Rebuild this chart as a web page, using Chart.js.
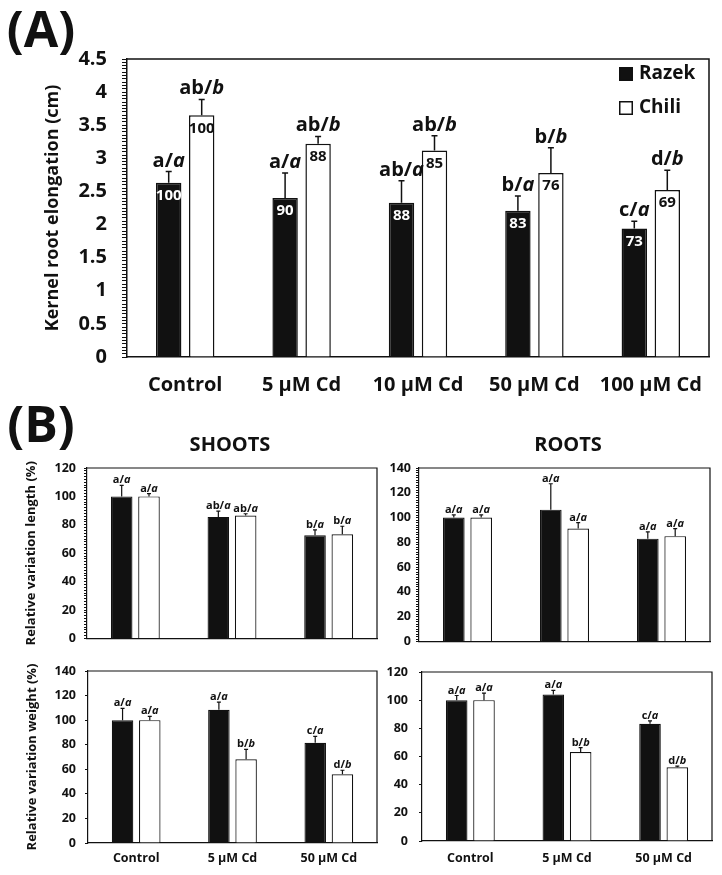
<!DOCTYPE html>
<html><head><meta charset="utf-8">
<script src="https://cdn.jsdelivr.net/npm/chart.js@4.4.0/dist/chart.umd.min.js"></script>
<style>
html,body{margin:0;padding:0;background:#fff;}
body{width:722px;height:875px;position:relative;overflow:hidden;}
canvas{position:absolute;display:block;}
</style></head><body>
<canvas id="cA" width="722" height="400" style="left:0;top:0"></canvas>
<canvas id="cSL" width="380" height="254" style="left:0;top:400px"></canvas>
<canvas id="cRL" width="342" height="254" style="left:380px;top:400px"></canvas>
<canvas id="cSW" width="380" height="225" style="left:0;top:650px"></canvas>
<canvas id="cRW" width="342" height="225" style="left:380px;top:650px"></canvas>
<script>
const FONT = "'Open Sans', 'DejaVu Sans', sans-serif";
const INK = '#111';

// ---------- Panel A : kernel root elongation ----------
const catA = ['Control', '5 µM Cd', '10 µM Cd', '50 µM Cd', '100 µM Cd'];
const razekA = [2.63, 2.40, 2.33, 2.21, 1.94];
const razekAErr = [0.17, 0.38, 0.33, 0.22, 0.11];
const chiliA = [3.65, 3.22, 3.12, 2.78, 2.52];
const chiliAErr = [0.24, 0.11, 0.22, 0.38, 0.30];
const razekAPct = ['100', '90', '88', '83', '73'];
const chiliAPct = ['100', '88', '85', '76', '69'];
const razekASig = ['a/a', 'a/a', 'ab/a', 'b/a', 'c/a'];
const chiliASig = ['ab/b', 'ab/b', 'ab/b', 'b/b', 'd/b'];
const yTicksA = [0, 0.5, 1, 1.5, 2, 2.5, 3, 3.5, 4, 4.5];

// ---------- Panel B ----------
const catB = ['Control', '5 µM Cd', '50 µM Cd'];
// Shoots - length
const shootLenRazek = [100, 85.6, 72.7];
const shootLenRazekErr = [7.8, 4.1, 3.8];
const shootLenChili = [100, 86.5, 73.4];
const shootLenChiliErr = [2.0, 1.3, 5.6];
const shootLenRazekSig = ['a/a', 'ab/a', 'b/a'];
const shootLenChiliSig = ['a/a', 'ab/a', 'b/a'];
const yTicksShootLen = [0, 20, 40, 60, 80, 100, 120];
// Roots - length
const rootLenRazek = [100, 106.4, 83.0];
const rootLenRazekErr = [2.2, 20.9, 5.5];
const rootLenChili = [100, 91.1, 85.0];
const rootLenChiliErr = [2.2, 4.8, 6.1];
const rootLenRazekSig = ['a/a', 'a/a', 'a/a'];
const rootLenChiliSig = ['a/a', 'a/a', 'a/a'];
const yTicksRootLen = [0, 20, 40, 60, 80, 100, 120, 140];
// Shoots - weight
const shootWRazek = [100, 108.5, 81.6];
const shootWRazekErr = [9.6, 6.2, 5.2];
const shootWChili = [100, 68.1, 55.9];
const shootWChiliErr = [3.0, 8.1, 3.3];
const shootWRazekSig = ['a/a', 'a/a', 'c/a'];
const shootWChiliSig = ['a/a', 'b/b', 'd/b'];
const yTicksShootW = [0, 20, 40, 60, 80, 100, 120, 140];
// Roots - weight
const rootWRazek = [100, 104.0, 83.2];
const rootWRazekErr = [3.3, 2.9, 2.1];
const rootWChili = [100, 63.2, 52.3];
const rootWChiliErr = [5.0, 3.1, 0.9];
const rootWRazekSig = ['a/a', 'a/a', 'c/a'];
const rootWChiliSig = ['a/a', 'b/b', 'd/b'];
const yTicksRootW = [0, 20, 40, 60, 80, 100, 120];

function drawSig(ctx, s, cx, base, size) {
  const parts = s.split('/');
  const a = parts[0] + '/', b = parts[1];
  const f1 = 'bold ' + size + 'px ' + FONT, f2 = 'italic bold ' + size + 'px ' + FONT;
  ctx.font = f1; const w1 = ctx.measureText(a).width;
  ctx.font = f2; const w2 = ctx.measureText(b).width;
  const x0 = cx - (w1 + w2) / 2;
  ctx.fillStyle = INK; ctx.textAlign = 'left'; ctx.textBaseline = 'alphabetic';
  ctx.font = f1; ctx.fillText(a, x0, base);
  ctx.font = f2; ctx.fillText(b, x0 + w1, base);
}

const annot = {
  id: 'annot',
  afterDraw(chart, args, o) {
    const ctx = chart.ctx, a = chart.chartArea, y = chart.scales.y;
    ctx.save();
    ctx.strokeStyle = INK; ctx.lineWidth = o.lw;
    ctx.beginPath(); ctx.moveTo(a.left, a.top); ctx.lineTo(a.right, a.top); ctx.lineTo(a.right, a.bottom); ctx.stroke();
    chart.data.datasets.forEach((ds, di) => {
      const meta = chart.getDatasetMeta(di);
      meta.data.forEach((bar, i) => {
        const yt = y.getPixelForValue(ds.data[i] + ds.errors[i]);
        ctx.strokeStyle = INK; ctx.lineWidth = o.lw;
        ctx.beginPath();
        ctx.moveTo(bar.x, bar.y); ctx.lineTo(bar.x, yt);
        ctx.moveTo(bar.x - o.cap / 2, yt); ctx.lineTo(bar.x + o.cap / 2, yt);
        ctx.stroke();
        drawSig(ctx, ds.sig[i], bar.x, yt - o.sigGap, o.sigSize);
        if (ds.pct) {
          ctx.font = 'bold ' + o.pctSize + 'px ' + FONT;
          ctx.fillStyle = ds.pctColor; ctx.textAlign = 'center'; ctx.textBaseline = 'middle';
          ctx.fillText(ds.pct[i], bar.x, bar.y + o.pctOff);
        }
      });
    });
    (o.texts || []).forEach(t => {
      ctx.font = 'bold ' + t.size + 'px ' + FONT; ctx.fillStyle = INK;
      ctx.textAlign = 'center'; ctx.textBaseline = 'middle';
      ctx.fillText(t.t, t.x, t.y);
    });
    if (o.legend) {
      const L = o.legend;
      chart.data.datasets.forEach((ds, di) => {
        const cy = L.y + di * L.gap;
        ctx.fillStyle = ds.backgroundColor; ctx.strokeStyle = INK; ctx.lineWidth = 1.5;
        ctx.fillRect(L.x, cy - L.box / 2, L.box, L.box);
        ctx.strokeRect(L.x + 0.75, cy - L.box / 2 + 0.75, L.box - 1.5, L.box - 1.5);
        ctx.font = 'bold ' + L.size + 'px ' + FONT; ctx.fillStyle = INK;
        ctx.textAlign = 'left'; ctx.textBaseline = 'middle';
        ctx.fillText(ds.label, L.x + L.box + 6, cy);
      });
    }
    ctx.restore();
  }
};

function build(id, p) {
  const ds = [
    { label: 'Razek', data: p.razek, errors: p.razekErr, sig: p.razekSig, pct: p.razekPct, pctColor: '#fff',
      backgroundColor: INK, borderColor: INK, borderWidth: p.lw },
    { label: 'Chili', data: p.chili, errors: p.chiliErr, sig: p.chiliSig, pct: p.chiliPct, pctColor: INK,
      backgroundColor: '#fff', borderColor: INK, borderWidth: p.lw }
  ];
  ds.forEach(d => { d.categoryPercentage = p.catPct; d.barPercentage = p.barPct; });
  return new Chart(document.getElementById(id), {
    type: 'bar',
    data: { labels: p.labels, datasets: ds },
    options: {
      responsive: false, animation: false, devicePixelRatio: 1,
      layout: { padding: { top: p.padTop, right: p.padRight, left: 0, bottom: 0 } },
      plugins: {
        legend: { display: false }, tooltip: { enabled: false },
        annot: { lw: p.lw, cap: p.cap, sigGap: p.sigGap, sigSize: p.sigSize, pctSize: p.pctSize, pctOff: p.pctOff,
                 texts: p.texts, legend: p.legend }
      },
      scales: {
        x: {
          afterFit: s => { s.height = p.xH; },
          grid: { display: false, drawTicks: false },
          border: { display: true, color: INK, width: p.lw },
          ticks: { display: p.showX, padding: p.xPad, color: INK, maxRotation: 0, autoSkip: false,
                   font: { family: FONT, weight: 'bold', size: p.xFont } }
        },
        y: {
          min: 0, max: p.yMax,
          afterFit: s => { s.width = p.yW; },
          grid: { drawOnChartArea: false, drawTicks: true, tickLength: p.tl, color: INK, lineWidth: 1 },
          border: { display: true, color: INK, width: p.lw },
          ticks: { stepSize: p.step, autoSkip: false, padding: p.yPad, color: INK,
                   font: { family: FONT, weight: 'bold', size: p.yFont },
                   callback: v => p.major.some(t => Math.abs(t - v) < 1e-6) ? String(v) : '' },
          title: p.yTitle ? { display: true, text: p.yTitle, color: INK,
                   font: { family: FONT, weight: 'bold', size: p.yTitleFont },
                   padding: { top: p.yTitlePad, bottom: 0 } } : { display: false }
        }
      }
    },
    plugins: [annot]
  });
}

function go() {
  Chart.defaults.font.family = FONT;
  Chart.defaults.color = INK;
  build('cA', {
    labels: catA, razek: razekA, razekErr: razekAErr, razekSig: razekASig, razekPct: razekAPct,
    chili: chiliA, chiliErr: chiliAErr, chiliSig: chiliASig, chiliPct: chiliAPct,
    catPct: 0.567, barPct: 0.77, lw: 1.5, cap: 6, sigGap: 5, sigSize: 20, pctSize: 15, pctOff: 13,
    padTop: 59, padRight: 13, xH: 43, showX: true, xPad: 16, xFont: 20,
    yMax: 4.5, step: 0.05, major: yTicksA, yW: 127, tl: 5, yPad: 15, yFont: 20,
    yTitle: 'Kernel root elongation (cm)', yTitleFont: 18, yTitlePad: 42,
    texts: [{ t: '(A)', x: 41, y: 33, size: 50 }],
    legend: { x: 619, y: 74, gap: 34, box: 14, size: 19 }
  });
  const common = { labels: catB, catPct: 0.565, barPct: 0.79, lw: 1.2, cap: 4, sigGap: 2, sigSize: 11,
                   yFont: 12.5, xFont: 12.5, yTitleFont: 13, tl: 3 };
  build('cSL', Object.assign({}, common, {
    razek: shootLenRazek, razekErr: shootLenRazekErr, razekSig: shootLenRazekSig,
    chili: shootLenChili, chiliErr: shootLenChiliErr, chiliSig: shootLenChiliSig,
    padTop: 68, padRight: 3, xH: 10, showX: false, xPad: 0,
    yMax: 120, step: 2, major: yTicksShootLen, yW: 87, yPad: 8,
    yTitle: 'Relative variation length (%)', yTitlePad: 23,
    texts: [{ t: '(B)', x: 41, y: 28, size: 50 }, { t: 'SHOOTS', x: 230, y: 45, size: 20 }]
  }));
  build('cRL', Object.assign({}, common, {
    razek: rootLenRazek, razekErr: rootLenRazekErr, razekSig: rootLenRazekSig,
    chili: rootLenChili, chiliErr: rootLenChiliErr, chiliSig: rootLenChiliSig,
    padTop: 68, padRight: 12, xH: 9, showX: false, xPad: 0,
    yMax: 140, step: 2, major: yTicksRootLen, yW: 39, yPad: 5,
    texts: [{ t: 'ROOTS', x: 188, y: 45, size: 20 }]
  }));
  build('cSW', Object.assign({}, common, {
    razek: shootWRazek, razekErr: shootWRazekErr, razekSig: shootWRazekSig,
    chili: shootWChili, chiliErr: shootWChiliErr, chiliSig: shootWChiliSig,
    padTop: 21, padRight: 3, xH: 32, showX: true, xPad: 8,
    yMax: 140, step: 20, major: yTicksShootW, yW: 88, yPad: 9,
    yTitle: 'Relative variation weight (%)', yTitlePad: 24
  }));
  build('cRW', Object.assign({}, common, {
    razek: rootWRazek, razekErr: rootWRazekErr, razekSig: rootWRazekSig,
    chili: rootWChili, chiliErr: rootWChiliErr, chiliSig: rootWChiliSig,
    padTop: 22, padRight: 10, xH: 34, showX: true, xPad: 10,
    yMax: 120, step: 20, major: yTicksRootW, yW: 42, yPad: 11
  }));
}

const fontLoads = ['bold 20px "Open Sans"', 'italic bold 20px "Open Sans"'].map(f => document.fonts ? document.fonts.load(f) : Promise.resolve());
let started = false;
function start() { if (!started) { started = true; go(); } }
Promise.all(fontLoads).then(start, start);
setTimeout(start, 800);
</script>
</body></html>
